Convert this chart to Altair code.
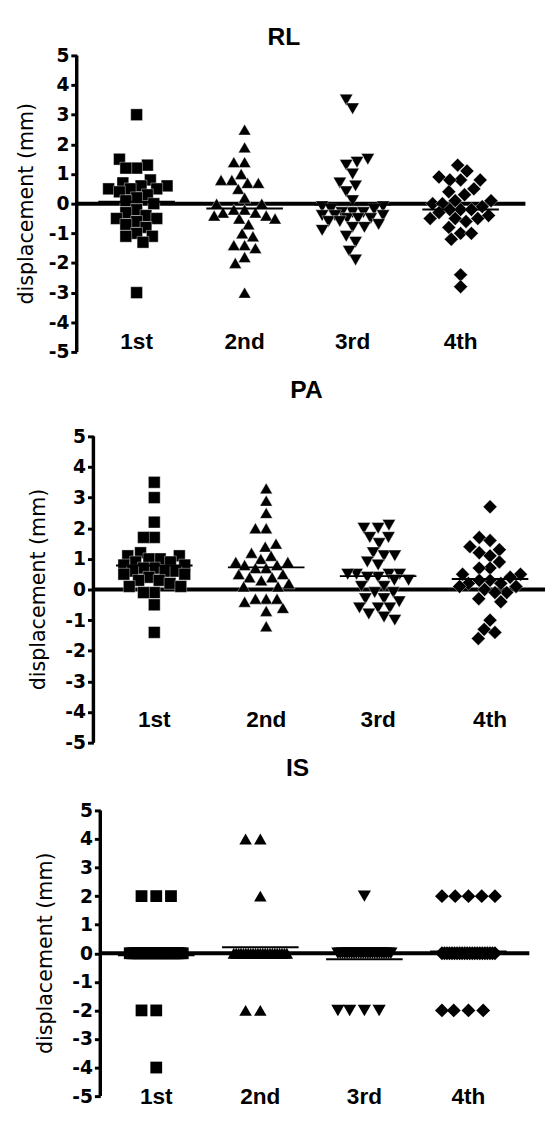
import altair as alt
import numpy as np
import pandas as pd

categories = ["1st", "2nd", "3rd", "4th"]
shapes = ["square", "triangle-up", "triangle-down", "diamond"]
panel_names = ["RL", "PA", "IS"]
y_ticks = [-5, -4, -3, -2, -1, 0, 1, 2, 3, 4, 5]
y_title = "displacement (mm)"

# ---- RL ----
rl_1st = [3.0, 1.5, 1.3, 1.2, 1.2, 0.8, 0.7, 0.6, 0.6, 0.5, 0.5, 0.5, 0.4, 0.3, 0.2, 0.1, 0.0,
          -0.2, -0.3, -0.4, -0.5, -0.5, -0.6, -0.7, -0.8, -1.0, -1.1, -1.1, -1.3, -3.0]
rl_2nd = [2.5, 1.9, 1.4, 1.4, 1.0, 0.8, 0.8, 0.7, 0.7, 0.5, 0.2, 0.0, 0.0, -0.2, -0.2, -0.3, -0.3,
          -0.4, -0.4, -0.5, -0.5, -0.7, -1.0, -1.1, -1.4, -1.4, -1.5, -1.8, -2.0, -3.0]
rl_3rd = [3.5, 3.2, 1.5, 1.4, 1.3, 1.0, 0.7, 0.6, 0.4, 0.1, -0.1, -0.1, -0.2, -0.2, -0.3, -0.3,
          -0.3, -0.4, -0.4, -0.4, -0.5, -0.5, -0.5, -0.6, -0.6, -0.7, -0.8, -0.8, -0.9, -1.1,
          -1.3, -1.6, -1.9]
rl_4th = [1.3, 1.1, 0.9, 0.8, 0.8, 0.8, 0.5, 0.4, 0.3, 0.1, 0.1, 0.0, 0.0, -0.1, -0.2, -0.2,
          -0.2, -0.3, -0.4, -0.5, -0.5, -0.5, -0.6, -0.8, -1.0, -1.0, -1.2, -2.4, -2.8]

# ---- PA ----
pa_1st = [3.5, 3.0, 2.2, 1.7, 1.7, 1.2, 1.1, 1.1, 1.0, 1.0, 0.9, 0.9, 0.8, 0.8, 0.7, 0.7, 0.6,
          0.6, 0.6, 0.5, 0.5, 0.4, 0.3, 0.3, 0.2, 0.1, 0.1, -0.1, -0.1, -0.5, -1.4]
pa_2nd = [3.3, 2.9, 2.5, 2.0, 2.0, 1.5, 1.4, 1.2, 1.1, 1.0, 0.9, 0.9, 0.8, 0.8, 0.7, 0.7, 0.5,
          0.5, 0.4, 0.4, 0.3, 0.2, 0.1, 0.1, -0.3, -0.3, -0.3, -0.4, -0.6, -0.7, -1.2]
pa_3rd = [2.1, 2.0, 2.0, 1.7, 1.7, 1.5, 1.2, 1.1, 1.1, 0.9, 0.8, 0.5, 0.5, 0.5, 0.5, 0.4, 0.4,
          0.3, 0.3, 0.1, 0.1, -0.1, -0.1, -0.3, -0.3, -0.4, -0.6, -0.6, -0.6, -0.8, -0.9, -1.0]
pa_4th = [2.7, 1.7, 1.6, 1.4, 1.3, 1.2, 1.1, 0.9, 0.7, 0.7, 0.5, 0.5, 0.4, 0.3, 0.3, 0.2, 0.2,
          0.1, 0.1, 0.0, -0.1, -0.1, -0.3, -0.4, -1.0, -1.3, -1.4, -1.6]

# ---- IS ----
is_1st = [2, 2, 2] + [0] * 24 + [-2, -2, -4]
is_2nd = [4, 4, 2] + [0] * 23 + [-2, -2]
is_3rd = [2] + [0] * 24 + [-2, -2, -2, -2]
is_4th = [2, 2, 2, 2, 2] + [0] * 22 + [-2, -2, -2, -2]

panel_groups = {
    "RL": [rl_1st, rl_2nd, rl_3rd, rl_4th],
    "PA": [pa_1st, pa_2nd, pa_3rd, pa_4th],
    "IS": [is_1st, is_2nd, is_3rd, is_4th],
}

# layout (pixels)
layout = {
    "RL": dict(unit=30.2, c1=61, k=110, axis=0, width=457, ext=0, title=(211, -19),
               label_y=292, ytitle_x=-51, diam=11.0, maxhalf=31.0, stroke=0.4),
    "PA": dict(unit=31.2, c1=79, k=114, axis=17, width=477, ext=17, title=(234, -30),
               label_y=306, ytitle_x=-38, diam=11.0, maxhalf=31.0, stroke=0.4),
    "IS": dict(unit=29.1, c1=81, k=106, axis=24, width=461, ext=0, title=(225, -43),
               label_y=292, ytitle_x=-31, diam=15.0, maxhalf=27.0, stroke=0.0),
}
sizes = [144, 200, 200, 225]
mean_half_px = 39


def swarm(values, unit, diam, maxhalf):
    vals = np.asarray(values, dtype=float)
    n = len(vals)
    off = np.zeros(n)
    placed = []
    uniq, counts = np.unique(vals, return_counts=True)
    cnt = dict(zip(uniq, counts))
    crowded = {u for u, c in cnt.items() if (c - 1) * diam > 2 * maxhalf}
    seen = {}
    for i in range(n):
        v = vals[i]
        if v in crowded:
            c = cnt[v]
            j = seen.get(v, 0)
            seen[v] = j + 1
            off[i] = -maxhalf + j * (2 * maxhalf / (c - 1))
            placed.append((off[i], v * unit))
    cands = sorted(np.arange(-maxhalf, maxhalf + 1e-9, 0.5), key=lambda t: (abs(t), t))
    order = np.argsort(np.abs(vals - np.median(vals)), kind="stable")
    for i in order:
        v = vals[i]
        if v in crowded:
            continue
        y = v * unit
        best, bestc, bestd = None, 0.0, -1.0
        for c in cands:
            dmin = min((np.hypot(c - px, y - py) for px, py in placed), default=1e9)
            if dmin >= diam:
                best = c
                break
            if dmin > bestd:
                bestd, bestc = dmin, c
        if best is None:
            best = bestc
        off[i] = best
        placed.append((best, y))
    return off


def make_panel(name):
    L = layout[name]
    k = L["k"]
    lo = 1 - L["c1"] / k
    hi = lo + L["width"] / k
    axis_c = lo + L["axis"] / k
    top = 5 + L["ext"] / L["unit"]
    height = (top + 5) * L["unit"]

    rows, means = [], []
    for gi, vals in enumerate(panel_groups[name]):
        offs = swarm(vals, L["unit"], L["diam"], L["maxhalf"])
        for v, o in zip(vals, offs):
            rows.append({"grp": categories[gi], "v": v, "x": gi + 1 + o / k})
        m = float(np.mean(vals))
        means.append({"grp": categories[gi], "v": m,
                      "x": gi + 1 - mean_half_px / k, "x2": gi + 1 + mean_half_px / k})
    pts = pd.DataFrame(rows)
    mdf = pd.DataFrame(means)

    xs = alt.Scale(domain=[lo, hi], nice=False, zero=False)
    ys = alt.Scale(domain=[-5, top], nice=False, zero=False)
    yaxis = alt.Axis(values=y_ticks, domain=False, grid=False, ticks=True, tickSize=6,
                     tickWidth=3, tickColor="black", labelFont="DejaVu Sans",
                     labelFontWeight="bold", labelFontSize=19, labelColor="black",
                     labelPadding=2, labelExpr="'' + datum.value", title=None,
                     offset=-L["axis"])
    X = lambda f: alt.X(f, type="quantitative", scale=xs, axis=None, title=None)
    Y = lambda f: alt.Y(f, type="quantitative", scale=ys, axis=yaxis, title=None)

    zero = alt.Chart(pd.DataFrame({"x": [axis_c], "x2": [hi], "v": [0.0]})).mark_rule(
        color="black", strokeWidth=4).encode(x=X("x"), x2="x2", y=Y("v"))
    axline = alt.Chart(pd.DataFrame({"x": [axis_c], "v": [-5.0], "v2": [5.0]})).mark_rule(
        color="black", strokeWidth=3.5).encode(x=X("x"), y=Y("v"), y2="v2")
    point_kw = dict(filled=True, opacity=1, fill="black")
    if L["stroke"] > 0:
        point_kw.update(stroke="white", strokeWidth=L["stroke"])
    points = alt.Chart(pts).mark_point(**point_kw).encode(
        x=X("x"), y=Y("v"),
        shape=alt.Shape("grp:N", scale=alt.Scale(domain=categories, range=shapes), legend=None),
        size=alt.Size("grp:O", scale=alt.Scale(domain=categories, range=sizes), legend=None),
    )
    meanl = alt.Chart(mdf).mark_rule(color="black", strokeWidth=2).encode(
        x=X("x"), x2="x2", y=Y("v"))
    labels = alt.Chart(pd.DataFrame({"grp": categories, "x": [1, 2, 3, 4]})).mark_text(
        font="Liberation Sans", fontWeight="bold", fontSize=23, color="black",
        baseline="middle", align="center").encode(
        x=X("x"), y=alt.value(L["label_y"]), text="grp:N")
    title = alt.Chart(pd.DataFrame({"t": [name]})).mark_text(
        font="Liberation Sans", fontWeight="bold", fontSize=25, color="black",
        baseline="middle", align="center").encode(
        x=alt.value(L["title"][0]), y=alt.value(L["title"][1]), text="t:N")
    ytit = alt.Chart(pd.DataFrame({"t": [y_title]})).mark_text(
        font="DejaVu Sans", fontSize=21, color="black", angle=270,
        baseline="middle", align="center").encode(
        x=alt.value(L["ytitle_x"]), y=alt.value(top * L["unit"]), text="t:N")

    return alt.layer(zero, points, meanl, axline, labels, title, ytit).properties(
        width=L["width"], height=height)


chart = alt.vconcat(*[make_panel(n) for n in panel_names], spacing=69, bounds="flush").properties(
    padding={"left": 8, "top": 7, "right": 0, "bottom": 0},
    background="white",
).configure_view(strokeWidth=0, stroke=None)

chart.save("out.html", embed_options={"renderer": "svg", "actions": False})
